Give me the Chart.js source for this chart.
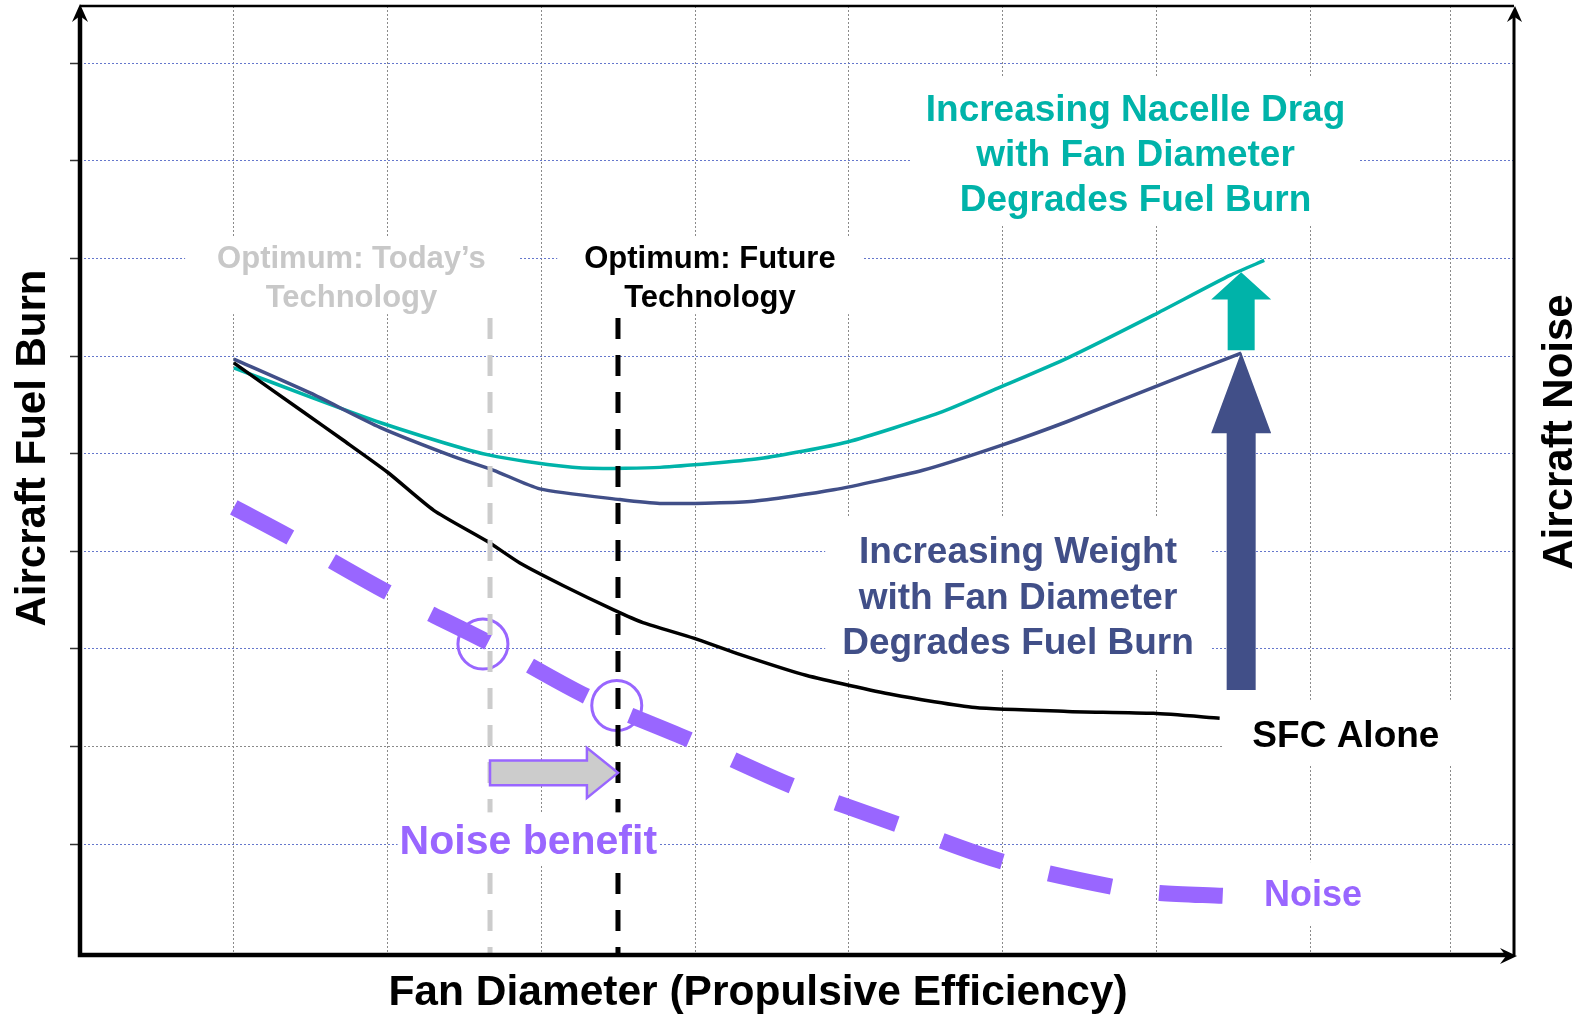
<!DOCTYPE html>
<html lang="en">
<head>
  <meta charset="UTF-8" />
  <title>Fan Diameter vs Fuel Burn and Noise</title>
  <script src="https://cdn.jsdelivr.net/npm/chart.js"></script>
  <style>
    body { margin: 0; background: #fff; }
    canvas { display: block; }
  </style>
</head>
<body>
  <canvas id="chart" width="1583" height="1014"></canvas>
  <script>
    // grid positions (fan diameter / fuel burn units of the sketch)
    const gridX = [1, 2, 3, 4, 5, 6, 7, 8, 8.91];
    const gridY = [1, 2, 3, 4, 5, 6, 7, 8, 9];

    // curves
    const dragX = [1.0, 1.50, 1.95, 2.52, 2.71, 3.04, 3.32, 3.77, 4.42, 4.99, 5.59, 5.98, 6.42, 6.98, 7.48, 7.70];
    const dragY = [5.88, 5.58, 5.32, 5.04, 4.97, 4.89, 4.85, 4.86, 4.95, 5.12, 5.42, 5.68, 5.98, 6.42, 6.83, 6.98];

    const weightX = [1.0, 1.50, 1.95, 2.43, 2.69, 2.99, 3.51, 3.77, 4.36, 4.90, 5.48, 5.98, 6.42, 6.98, 7.55];
    const weightY = [5.97, 5.62, 5.27, 4.97, 4.83, 4.64, 4.53, 4.49, 4.51, 4.63, 4.83, 5.08, 5.33, 5.68, 6.03];

    const sfcX = [1.0, 1.45, 1.71, 2.00, 2.30, 2.65, 2.86, 3.14, 3.47, 3.66, 3.99, 4.26, 4.72, 5.29, 5.82, 6.42, 6.98, 7.41];
    const sfcY = [5.93, 5.43, 5.14, 4.81, 4.42, 4.10, 3.88, 3.65, 3.40, 3.27, 3.11, 2.96, 2.73, 2.53, 2.40, 2.36, 2.34, 2.29];

    const noiseX = [1.0, 1.37, 2.00, 2.65, 3.30, 3.96, 4.64, 5.32, 6.00, 6.72, 7.02, 7.43];
    const noiseY = [4.45, 4.14, 3.58, 3.07, 2.51, 2.07, 1.59, 1.20, 0.82, 0.56, 0.50, 0.47];

    // optimum fan diameters and the noise at each
    const optimumX = [2.666, 3.498];
    const optimumSpan = [6.39, -0.136];
    const benefitX = [2.62, 3.49];
    const benefitY = [3.05, 2.42];

    const TEAL = "#00b3a9";
    const NAVY = "#414f88";
    const PURPLE = "#9966ff";
    const LIGHT = "#cccccc";
    const FONT = '"Liberation Sans", Arial, sans-serif';

    // arrows in data units
    const weightArrow = { x: 7.55, from: 2.58, head: 5.21, to: 6.04, shaft: 14.5, wing: 30, color: NAVY };
    const dragArrow = { x: 7.55, from: 6.06, head: 6.58, to: 6.86, shaft: 13.5, wing: 30, color: TEAL };
    const benefitArrow = { y: 1.73, from: 2.666, head: 3.296, to: 3.498, shaft: 12.3, wing: 25 };

    // text labels: centre x, centre of first line y; pad = [left, right, top, bottom]
    const notes = [
      { lines: ["Optimum: Today\u2019s", "Technology"], x: 1.765, y: 7.02, lh: 39.5, size: 31, color: "#c8c8c8", pad: [32, 34, 8, 7] },
      { lines: ["Optimum: Future", "Technology"], x: 4.096, y: 7.02, lh: 39.5, size: 31, color: "#000", pad: [27, 27, 8, 7] },
      { lines: ["Increasing Nacelle Drag", "with Fan Diameter", "Degrades Fuel Burn"], x: 6.863, y: 8.547, lh: 45, size: 37, color: TEAL, pad: [14, 13, 18, 15] },
      { lines: ["Increasing Weight", "with Fan Diameter", "Degrades Fuel Burn"], x: 6.099, y: 4.013, lh: 45.3, size: 37, color: NAVY, pad: [17, 18, 19, 16] },
      { lines: ["SFC Alone"], x: 8.231, y: 2.128, lh: 0, size: 37, color: "#000", pad: [30, 80, 21, 18] },
      { lines: ["Noise"], x: 8.017, y: 0.499, lh: 0, size: 36, color: PURPLE, pad: [19, 13, 18, 19] },
      { lines: ["Noise benefit"], x: 2.915, y: 1.052, lh: 0, size: 41, color: PURPLE, pad: [2, 2, 12, 11] }
    ];

    const toPoints = (xs, ys) => xs.map((x, i) => ({ x, y: ys[i] }));

    function arrowHead(ctx, tip, l, r, notch) {
      ctx.beginPath();
      ctx.moveTo(tip[0], tip[1]);
      ctx.lineTo(l[0], l[1]);
      ctx.lineTo(notch[0], notch[1]);
      ctx.lineTo(r[0], r[1]);
      ctx.closePath();
      ctx.fill();
    }

    const sketchOverlay = {
      id: "sketchOverlay",
      afterDatasetsDraw(chart) {
        const { ctx, chartArea: a, scales: { x, y } } = chart;
        ctx.save();

        // labels with white backing
        notes.forEach(n => {
          ctx.font = `bold ${n.size}px ${FONT}`;
          const w = Math.max(...n.lines.map(t => ctx.measureText(t).width));
          const cx = x.getPixelForValue(n.x);
          const cy = y.getPixelForValue(n.y);
          const half = n.size * 0.358;
          const last = cy + n.lh * (n.lines.length - 1);
          ctx.fillStyle = "#fff";
          ctx.fillRect(cx - w / 2 - n.pad[0], cy - half - n.pad[2],
            w + n.pad[0] + n.pad[1], last - cy + 2 * half + n.pad[2] + n.pad[3]);
          ctx.fillStyle = n.color;
          ctx.textAlign = "center";
          ctx.textBaseline = "alphabetic";
          n.lines.forEach((t, i) => ctx.fillText(t, cx, cy + i * n.lh + half));
        });

        // vertical block arrows
        [weightArrow, dragArrow].forEach(ar => {
          const px = x.getPixelForValue(ar.x);
          const yb = y.getPixelForValue(ar.from);
          const yh = y.getPixelForValue(ar.head);
          const yt = y.getPixelForValue(ar.to);
          ctx.fillStyle = ar.color;
          ctx.beginPath();
          ctx.moveTo(px - ar.shaft, yb);
          ctx.lineTo(px - ar.shaft, yh);
          ctx.lineTo(px - ar.wing, yh);
          ctx.lineTo(px, yt);
          ctx.lineTo(px + ar.wing, yh);
          ctx.lineTo(px + ar.shaft, yh);
          ctx.lineTo(px + ar.shaft, yb);
          ctx.closePath();
          ctx.fill();
        });

        // noise benefit arrow
        const by = y.getPixelForValue(benefitArrow.y);
        const b0 = x.getPixelForValue(benefitArrow.from);
        const bh = x.getPixelForValue(benefitArrow.head);
        const bt = x.getPixelForValue(benefitArrow.to);
        ctx.beginPath();
        ctx.moveTo(b0, by - benefitArrow.shaft);
        ctx.lineTo(bh, by - benefitArrow.shaft);
        ctx.lineTo(bh, by - benefitArrow.wing);
        ctx.lineTo(bt, by);
        ctx.lineTo(bh, by + benefitArrow.wing);
        ctx.lineTo(bh, by + benefitArrow.shaft);
        ctx.lineTo(b0, by + benefitArrow.shaft);
        ctx.closePath();
        ctx.fillStyle = LIGHT;
        ctx.fill();
        ctx.strokeStyle = PURPLE;
        ctx.lineWidth = 2.5;
        ctx.lineJoin = "miter";
        ctx.stroke();

        // axes frame
        ctx.strokeStyle = "#000";
        ctx.fillStyle = "#000";
        ctx.lineWidth = 2.5;
        ctx.beginPath();
        ctx.moveTo(a.left, a.top);
        ctx.lineTo(a.right, a.top);
        ctx.stroke();
        ctx.lineWidth = 3;
        ctx.beginPath();
        ctx.moveTo(a.right, a.bottom);
        ctx.lineTo(a.right, a.top + 10);
        ctx.stroke();
        arrowHead(ctx, [a.right + 1, a.top], [a.right - 7, a.top + 16], [a.right + 8, a.top + 16], [a.right + 0.5, a.top + 11]);
        ctx.lineWidth = 4.5;
        ctx.beginPath();
        ctx.moveTo(a.left, a.top + 10);
        ctx.lineTo(a.left, a.bottom);
        ctx.lineTo(a.right - 6, a.bottom);
        ctx.stroke();
        arrowHead(ctx, [a.left, a.top - 2], [a.left - 8, a.top + 16], [a.left + 8, a.top + 16], [a.left, a.top + 10]);
        arrowHead(ctx, [a.right + 3, a.bottom + 1], [a.right - 14, a.bottom - 7], [a.right - 14, a.bottom + 9], [a.right - 8, a.bottom + 1]);

        // axis titles
        ctx.font = `bold 42.5px ${FONT}`;
        ctx.textAlign = "center";
        ctx.textBaseline = "alphabetic";
        ctx.fillText("Fan Diameter (Propulsive Efficiency)", 758, 1005);
        ctx.font = `bold 42px ${FONT}`;
        ctx.textBaseline = "middle";
        ctx.save();
        ctx.translate(33, 448);
        ctx.rotate(-Math.PI / 2);
        ctx.fillText("Aircraft Fuel Burn", 0, 0);
        ctx.restore();
        ctx.save();
        ctx.translate(1560, 432);
        ctx.rotate(-Math.PI / 2);
        ctx.fillText("Aircraft Noise", 0, 0);
        ctx.restore();

        ctx.restore();
      }
    };

    const ctx = document.getElementById("chart").getContext("2d");
    new Chart(ctx, {
      type: "line",
      data: {
        datasets: [
          { label: "Today optimum", data: toPoints([optimumX[0], optimumX[0]], optimumSpan), borderColor: LIGHT, borderWidth: 5, borderDash: [21, 16], pointRadius: 0 },
          { label: "Future optimum", data: toPoints([optimumX[1], optimumX[1]], optimumSpan), borderColor: "#000", borderWidth: 5, borderDash: [21, 16], pointRadius: 0 },
          { label: "Noise", data: toPoints(noiseX, noiseY), borderColor: PURPLE, borderWidth: 16, borderDash: [64, 48], borderCapStyle: "butt", pointRadius: 0, tension: 0.3 },
          { label: "SFC Alone", data: toPoints(sfcX, sfcY), borderColor: "#000", borderWidth: 3.5, pointRadius: 0, tension: 0.2 },
          { label: "Weight", data: toPoints(weightX, weightY), borderColor: NAVY, borderWidth: 3.5, pointRadius: 0, tension: 0.2 },
          { label: "Nacelle drag", data: toPoints(dragX, dragY), borderColor: TEAL, borderWidth: 3.5, pointRadius: 0, tension: 0.2 },
          { label: "Noise at optimum", data: toPoints(benefitX, benefitY), showLine: false, pointRadius: 25, pointBorderWidth: 3, pointBorderColor: PURPLE, pointBackgroundColor: "rgba(0,0,0,0)" }
        ]
      },
      options: {
        responsive: false,
        animation: false,
        devicePixelRatio: 1,
        layout: { autoPadding: false, padding: { left: 70, right: 69, top: 6, bottom: 59 } },
        plugins: { legend: { display: false }, tooltip: { enabled: false } },
        scales: {
          x: {
            type: "linear",
            min: 0,
            max: 9.324,
            afterBuildTicks: s => { s.ticks = gridX.map(v => ({ value: v })); },
            ticks: { display: false },
            grid: { color: "#8a8a8a", lineWidth: 1, drawTicks: false },
            border: { display: false, dash: [2, 2] }
          },
          y: {
            type: "linear",
            min: -0.136,
            max: 9.587,
            afterBuildTicks: s => { s.ticks = gridY.map(v => ({ value: v })); },
            ticks: { display: false },
            grid: {
              color: c => (c.tick && c.tick.value === 2 ? "#8a8a8a" : "#6577cc"),
              lineWidth: 1,
              drawTicks: true,
              tickLength: 10,
              tickColor: "#333",
              tickWidth: 1.5
            },
            border: { display: false, dash: [2, 2] }
          }
        }
      },
      plugins: [sketchOverlay]
    });
  </script>
</body>
</html>
